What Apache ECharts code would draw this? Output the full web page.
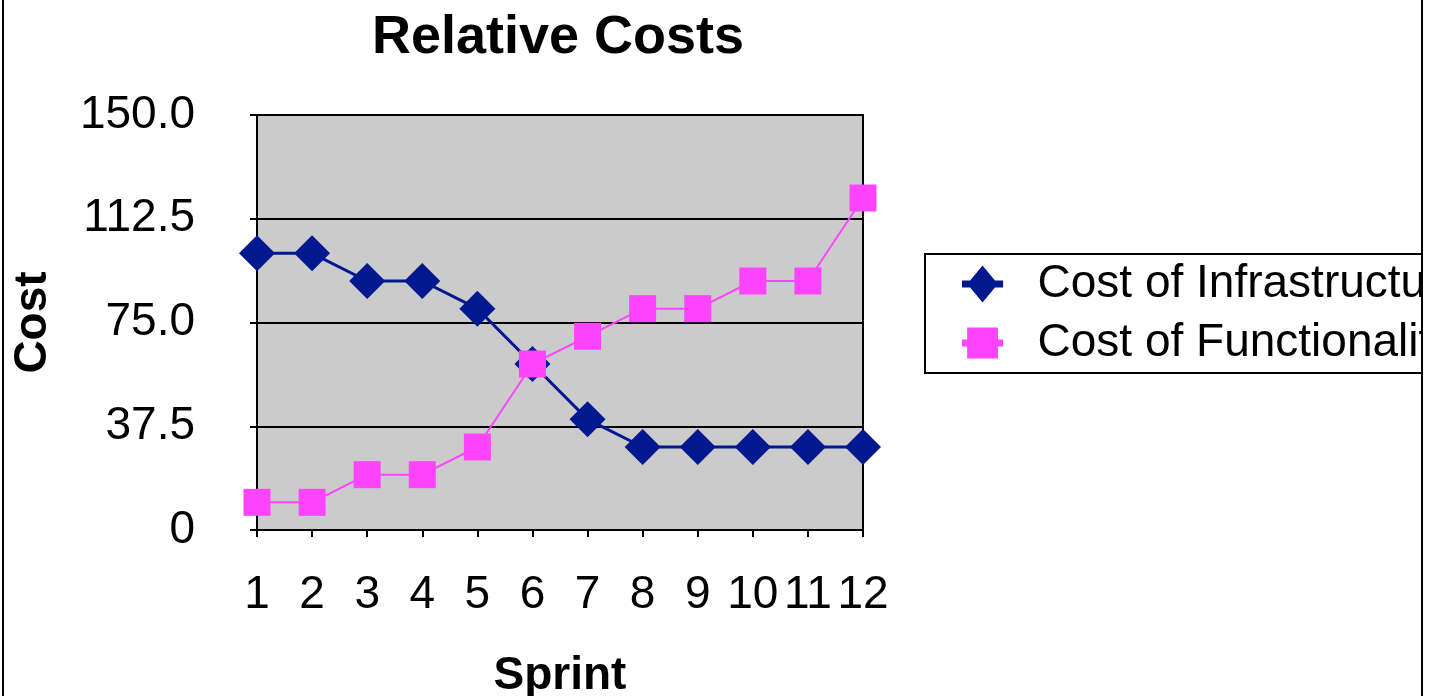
<!DOCTYPE html>
<html>
<head>
<meta charset="utf-8">
<script src="https://cdn.jsdelivr.net/npm/echarts@6/dist/echarts.min.js"></script>
<style>
  html, body { margin: 0; padding: 0; background: #fff; overflow: hidden; }
  #frame {
    position: absolute; left: 2px; top: -3px;
    width: 1417px; height: 700px;
    border: 2px solid #000; overflow: hidden; background: #fff;
  }
  #chart { width: 1417px; height: 700px; }
</style>
</head>
<body>
<div id="frame"><div id="chart"></div></div>
<script>
// Sprint numbers along the x axis
const sprints = ['1', '2', '3', '4', '5', '6', '7', '8', '9', '10', '11', '12'];
// Relative cost per sprint
const infrastructureCost = [100, 100, 90, 90, 80, 60, 40, 30, 30, 30, 30, 30];
const functionalityCost = [10, 10, 20, 20, 30, 60, 70, 80, 80, 90, 90, 120];
// Value axis range and step
const costMin = 0;
const costMax = 150;
const costStep = 37.5;

const FONT = "'Liberation Sans', Arial, Helvetica, sans-serif";
const NAVY = '#021890';
const MAGENTA = '#ff44ff';

// Legend icons: a short bar with the marker on top of it
const diamondIcon = 'path://M0 14.5 L7.9 14.5 L20 0 L32.1 14.5 L40 14.5 L40 21.5 L32.1 21.5 L20 36 L7.9 21.5 L0 21.5 Z';
const squareIcon = 'path://M0 14.5 L5 14.5 L5 3 L35 3 L35 14.5 L40 14.5 L40 21.5 L35 21.5 L35 33 L5 33 L5 21.5 L0 21.5 Z M0 0 L0 0.01 M0 36 L0 35.99';

const chart = echarts.init(document.getElementById('chart'), null, { renderer: 'canvas' });

chart.setOption({
  animation: false,
  backgroundColor: '#fff',
  title: {
    text: 'Relative Costs',
    left: 549,
    textAlign: 'center',
    top: 7,
    textStyle: { fontFamily: FONT, fontSize: 54, fontWeight: 'bold', color: '#000' }
  },
  legend: {
    orient: 'vertical',
    left: 921,
    top: 255,
    padding: [6, 60, 6, 37],
    itemGap: 11,
    itemWidth: 42,
    itemHeight: 37,
    borderColor: '#000',
    borderWidth: 2,
    backgroundColor: '#fff',
    textStyle: {
      fontFamily: FONT, fontSize: 46, color: '#000',
      lineHeight: 48, padding: [0, 0, 0, 29]
    },
    data: [
      { name: 'Cost of Infrastructure', icon: diamondIcon, itemStyle: { color: NAVY } },
      { name: 'Cost of Functionality', icon: squareIcon, itemStyle: { color: MAGENTA } }
    ]
  },
  grid: {
    left: 253,
    right: 558,
    top: 116,
    bottom: 169,
    containLabel: false,
    outerBoundsMode: 'none',
    show: true,
    backgroundColor: '#cbcbcb',
    borderColor: '#000',
    borderWidth: 2
  },
  xAxis: {
    type: 'category',
    data: sprints,
    boundaryGap: false,
    name: 'Sprint',
    nameLocation: 'middle',
    nameGap: 123,
    nameTextStyle: { fontFamily: FONT, fontSize: 46, fontWeight: 'bold', color: '#000' },
    axisLine: { lineStyle: { color: '#000', width: 2 } },
    axisTick: { show: true, inside: false, length: 7, interval: 0, alignWithLabel: true, lineStyle: { color: '#000', width: 2 } },
    axisLabel: { fontFamily: FONT, fontSize: 46, color: '#000', margin: 42, interval: 0 },
    splitLine: { show: false }
  },
  yAxis: {
    type: 'value',
    min: costMin,
    max: costMax,
    interval: costStep,
    name: 'Cost',
    nameLocation: 'middle',
    nameGap: 201,
    nameTextStyle: { fontFamily: FONT, fontSize: 46, fontWeight: 'bold', color: '#000' },
    axisLine: { show: true, lineStyle: { color: '#000', width: 2 } },
    axisTick: { show: true, inside: false, length: 7, lineStyle: { color: '#000', width: 2 } },
    axisLabel: {
      fontFamily: FONT, fontSize: 46, color: '#000', margin: 62,
      formatter: v => (v === 0 ? '0' : v.toFixed(1))
    },
    splitLine: { show: true, lineStyle: { color: '#000', width: 2 } }
  },
  series: [
    {
      name: 'Cost of Infrastructure',
      type: 'line',
      data: infrastructureCost,
      clip: false,
      showAllSymbol: true,
      symbol: 'diamond',
      symbolSize: [36, 36],
      itemStyle: { color: NAVY },
      lineStyle: { color: NAVY, width: 3 },
      z: 3
    },
    {
      name: 'Cost of Functionality',
      type: 'line',
      data: functionalityCost,
      clip: false,
      showAllSymbol: true,
      symbol: 'rect',
      symbolSize: [27, 27],
      itemStyle: { color: MAGENTA },
      lineStyle: { color: MAGENTA, width: 2 },
      z: 4
    }
  ]
});
</script>
</body>
</html>
